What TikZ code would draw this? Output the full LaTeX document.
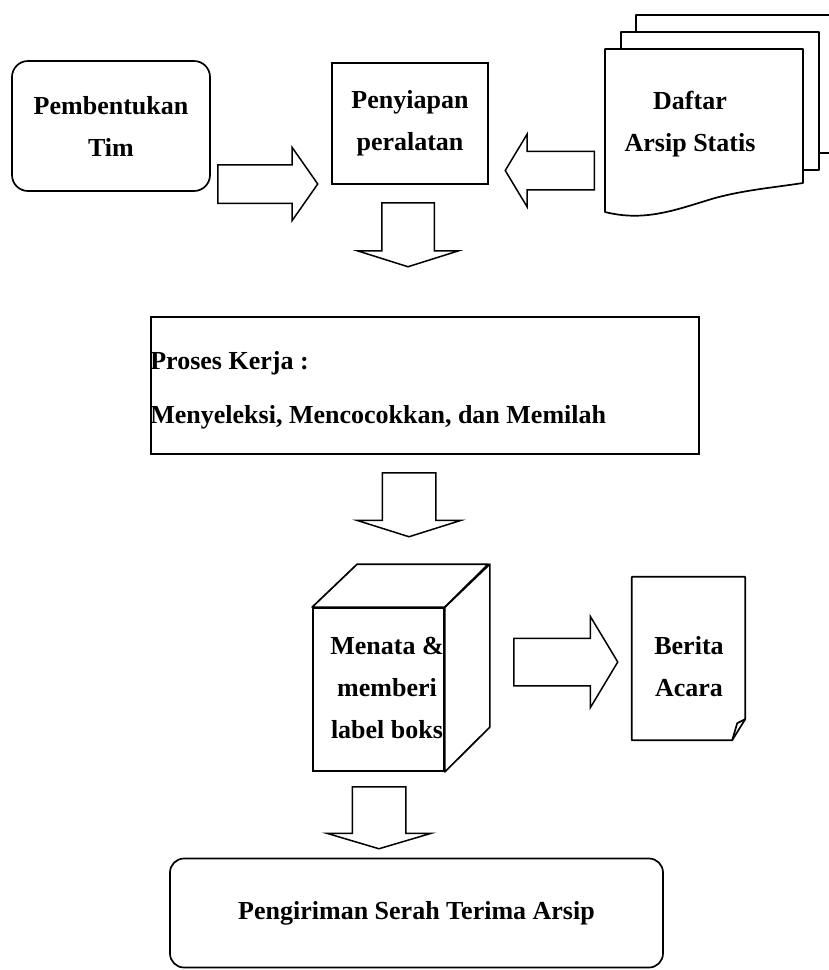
\documentclass[tikz,border=0pt]{standalone}
\usepackage{fontspec}
\setmainfont{Liberation Serif}
\usetikzlibrary{calc}
\usetikzlibrary{shapes.arrows}
\tikzstyle{box text}=[align=center, inner sep=0, font=\bfseries\fontsize{26}{42}\selectfont]
\tikzstyle{process}=[box text, draw, line width=1.7pt]
\tikzstyle{rounded process}=[process, rounded corners=16pt]
\tikzstyle{outline}=[line width=1.7pt, line join=round]
\tikzstyle{page}=[outline, fill=white]
\tikzstyle{block arrow}=[single arrow, draw, line width=1.5pt, inner sep=0, text width=0pt, text depth=0pt, anchor=tail]

\begin{document}
\begin{tikzpicture}[x=1pt, y=-1pt]
      \useasboundingbox (0,0) rectangle (828,970);

      \node[rounded process, minimum width=198pt, minimum height=130pt] (tim) at (111,126) {Pembentukan\\Tim};
      \node[process, minimum width=156pt, minimum height=121pt] (alat) at (410,123.5) {Penyiapan\\peralatan};

      \draw[page] (636,15) rectangle (836,153);
      \draw[page] (621,32) rectangle (819,170);
      \draw[page] (605,49) -- (803,49) -- (803,183) .. controls (770,188) and (745,190) .. (715,198) .. controls (675,210) and (645,222) .. (605,212) -- cycle;
      \node[box text] (daftar) at (690,124) {Daftar\\Arsip Statis};

      \node[block arrow, minimum height=100pt, text height=37pt, single arrow head extend=17.5pt, single arrow tip angle=110] (tim_arrow) at (217,184) {};
      \node[block arrow, rotate=180, minimum height=89pt, text height=37pt, single arrow head extend=17pt, single arrow tip angle=118] (daftar_arrow) at (595,170.5) {};
      \node[block arrow, rotate=-90, minimum height=64pt, text height=51pt, single arrow head extend=24.5pt, single arrow tip angle=145] (alat_arrow) at (408,202) {};

      \node[process, minimum width=548pt, minimum height=137pt] (proses) at (425,385.5) {};
      \node[box text, anchor=west, align=left] (proses_label) at (proses.west |- 0,390) {Proses Kerja :\\[12pt]Menyeleksi, Mencocokkan, dan Memilah};
      \node[block arrow, rotate=-90, minimum height=64pt, text height=52pt, single arrow head extend=25pt, single arrow tip angle=145] (proses_arrow) at (409,472) {};

      \node[process, minimum width=131pt, minimum height=163pt] (box_front) at (378.5,689.5) {};
      \draw[outline] (box_front.north west) -- ++(45,-43) -- ++(131,0) -- (box_front.north east) -- cycle;
      \draw[outline] (box_front.north east) -- ++(45,-43) -- ++(0,163) -- (box_front.south east) -- cycle;
      \node[box text] (box_label) at (387,688) {Menata \&\\memberi\\label boks};

      \node[block arrow, minimum height=104pt, text height=46pt, single arrow head extend=22pt, single arrow tip angle=118] (box_arrow) at (513,662) {};

      \node[minimum width=113pt, minimum height=163pt, inner sep=0] (berita) at (688.5,658.5) {};
      \draw[outline] (berita.north west) -- (berita.north east) -- ($(berita.south east)+(0,-21)$) -- ($(berita.south east)+(-13,0)$) -- (berita.south west) -- cycle;
      \draw[outline] ($(berita.south east)+(0,-21)$) -- ($(berita.south east)+(-8,-17)$) -- ($(berita.south east)+(-13,0)$);
      \node[box text] (berita_label) at (689,667) {Berita\\Acara};

      \node[block arrow, rotate=-90, minimum height=62pt, text height=52pt, single arrow head extend=25pt, single arrow tip angle=147] (kirim_arrow) at (379,786) {};
      \node[rounded process, rounded corners=14pt, minimum width=493pt, minimum height=109pt] (kirim) at (416.5,913) {Pengiriman Serah Terima Arsip};
    \end{tikzpicture}
\end{document}
